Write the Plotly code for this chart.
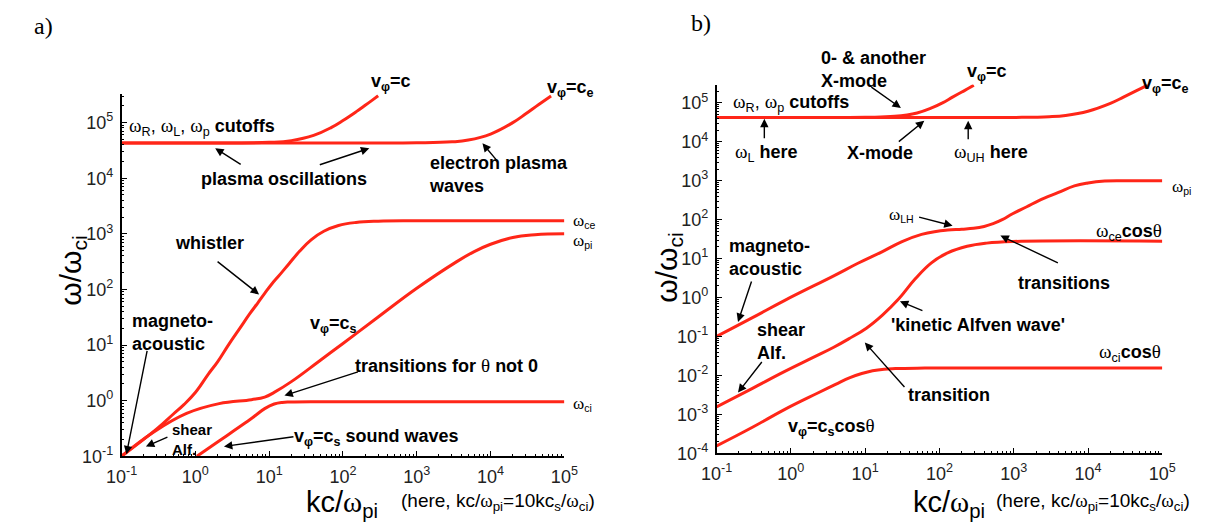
import plotly.graph_objects as go

W, H = 1220, 525
RED = "rgb(255,38,24)"
SANS = "Liberation Sans, Arial, sans-serif"
SERIF = "Liberation Serif, Times New Roman, serif"

# ---------------- panel a data (kc/omega_pi , omega/omega_ci) ----------------
a_epw_x = [0.1, 1, 10, 100, 1000, 3000, 5000, 10000, 20000, 30000, 45000, 66000]
a_epw_y = [43000, 43000, 43000, 43000, 43200, 45000, 48500, 62200, 99700, 143500, 210800, 300100]

a_light_x = [0.1, 1, 10, 20, 40, 70, 100, 150, 200, 250, 300]
a_light_y = [43000, 43000, 44100, 47400, 58700, 82100, 108900, 155800, 204500, 253700, 303100]

a_whistler_x = [0.1, 0.3, 0.5, 0.7, 1.0, 1.5, 2.0, 2.8, 4.0, 5.5, 7.0, 8.7, 11, 13, 18.6, 26, 37, 55, 87, 150, 300, 1000, 100000]
a_whistler_y = [0.1, 0.31, 0.57, 0.85, 1.4, 3.0, 5.0, 10, 20, 37, 57, 85, 128, 165, 290, 490, 780, 1110, 1410, 1600, 1690, 1720, 1720]

a_shear_x = [0.1, 0.27, 0.76, 2.1, 5.75, 8.7, 11.7, 20, 50, 100, 300, 1000, 3400, 6000, 10000, 20000, 40000, 100000]
a_shear_y = [0.1, 0.27, 0.59, 0.885, 1.04, 1.16, 1.41, 2.2, 5.4, 10.7, 32, 105, 310, 480, 650, 860, 960, 1000]

a_sound_x = [1.05, 2, 3.47, 6, 8.7, 11.7, 15, 19.5, 50, 100000]
a_sound_y = [0.1, 0.18, 0.3, 0.5, 0.72, 0.87, 0.93, 0.945, 0.955, 0.955]

# ---------------- panel b data ----------------
b_epw_x = [0.1, 1, 10, 100, 1000, 3000, 5000, 10000, 20000, 30000, 45000, 64000]
b_epw_y = [42000, 42000, 42000, 42000, 42200, 44000, 47500, 61000, 97000, 140000, 205000, 290000]

b_light_x = [0.1, 1, 10, 25, 50, 80, 110, 150, 200, 250, 290]
b_light_y = [42000, 42000, 42500, 45000, 55000, 75000, 100000, 140000, 190000, 240000, 285000]

b_ms_x = [0.1, 0.3, 0.83, 3.78, 8, 17.1, 31.4, 57.5, 90, 129, 200, 288, 400, 528, 700, 966, 1500, 2180, 4000, 6550, 10000, 16800, 30000, 100000]
b_ms_y = [0.1, 0.3, 0.85, 3.62, 7.6, 15.2, 27.5, 42, 50, 54, 57, 60, 67, 79, 100, 142, 215, 309, 502, 740, 880, 980, 1000, 1000]

b_kaw_x = [0.1, 0.3, 0.83, 2, 3.78, 6, 10.4, 17.1, 28.4, 47, 78, 129, 236, 432, 966, 100000]
b_kaw_y = [0.00155, 0.0046, 0.0127, 0.029, 0.053, 0.087, 0.164, 0.355, 0.93, 2.98, 7.8, 14, 20.7, 25, 27.5, 28]

b_sound_x = [0.1, 0.3, 0.83, 2.27, 4, 6.25, 9, 12.6, 18, 25.6, 50, 100, 100000]
b_sound_y = [0.000155, 0.00046, 0.00135, 0.0035, 0.0059, 0.0088, 0.0112, 0.0132, 0.0145, 0.0150, 0.0154, 0.0155, 0.0155]

# ---------------- tick labels ----------------
x_tickvals = [0.1, 1, 10, 100, 1000, 10000, 100000]
x_ticktext = ["10<sup>-1</sup>", "10<sup>0</sup>", "10<sup>1</sup>", "10<sup>2</sup>",
              "10<sup>3</sup>", "10<sup>4</sup>", "10<sup>5</sup>"]
a_y_tickvals = [0.1, 1, 10, 100, 1000, 10000, 100000]
a_y_ticktext = x_ticktext
b_y_tickvals = [1e-4, 1e-3, 1e-2, 0.1, 1, 10, 100, 1000, 10000, 100000]
b_y_ticktext = ["10<sup>-4</sup>", "10<sup>-3</sup>", "10<sup>-2</sup>", "10<sup>-1</sup>",
                "10<sup>0</sup>", "10<sup>1</sup>", "10<sup>2</sup>", "10<sup>3</sup>",
                "10<sup>4</sup>", "10<sup>5</sup>"]

fig = go.Figure()


def curve(x, y, xa, ya):
    fig.add_trace(go.Scatter(x=x, y=y, mode="lines", xaxis=xa, yaxis=ya,
                             line=dict(color=RED, width=3, shape="spline", smoothing=1.2),
                             showlegend=False, hoverinfo="skip"))


for xs, ys in [(a_epw_x, a_epw_y), (a_light_x, a_light_y), (a_whistler_x, a_whistler_y),
               (a_shear_x, a_shear_y), (a_sound_x, a_sound_y)]:
    curve(xs, ys, "x", "y")
for xs, ys in [(b_epw_x, b_epw_y), (b_light_x, b_light_y), (b_ms_x, b_ms_y),
               (b_kaw_x, b_kaw_y), (b_sound_x, b_sound_y)]:
    curve(xs, ys, "x2", "y2")


def minor_vals(e0, e1):
    return [k * 10.0 ** e for e in range(e0, e1) for k in range(2, 10)]


def axis_style(domain, rng, tv, tt, minv, anchor):
    return dict(domain=domain, type="log", range=rng, anchor=anchor,
                tickmode="array", tickvals=tv, ticktext=tt,
                ticks="inside", ticklen=6, tickwidth=1, tickcolor="black",
                ticklabelstandoff=3,
                minor=dict(tickmode="array", tickvals=minv, ticks="inside", ticklen=3,
                           tickwidth=1, tickcolor="black", showgrid=False),
                showline=True, linecolor="black", linewidth=1.5, showgrid=False,
                zeroline=False, tickfont=dict(family=SANS, size=18, color="#222"))


fig.update_layout(
    width=W, height=H, margin=dict(l=0, r=0, t=0, b=0),
    paper_bgcolor="white", plot_bgcolor="white", showlegend=False,
    xaxis=axis_style([100 / W, 554 / W], [-1, 5], x_tickvals, x_ticktext, minor_vals(-1, 5), "y"),
    yaxis=axis_style([1 - 457 / H, 1 - 88 / H], [-1, 5.508], a_y_tickvals, a_y_ticktext, minor_vals(-1, 6), "x"),
    xaxis2=axis_style([710 / W, 1167 / W], [-1, 5], x_tickvals, x_ticktext, minor_vals(-1, 5), "y2"),
    yaxis2=axis_style([1 - 454 / H, 1 - 78 / H], [-4, 5.471], b_y_tickvals, b_y_ticktext, minor_vals(-4, 6), "x2"),
)


def px(x):
    return x / W


def py(y):
    return 1 - y / H


def label(text, x, y, size=18, xanchor="center", align="center", angle=0, family=SANS):
    fig.add_annotation(text=text, x=px(x), y=py(y), xref="paper", yref="paper",
                       showarrow=False, xanchor=xanchor, yanchor="middle", align=align,
                       textangle=angle, font=dict(family=family, size=size, color="black"))


def arrow(x0, y0, x1, y1):
    fig.add_annotation(text="", x=px(x1), y=py(y1), xref="paper", yref="paper",
                       ax=x0 - x1, ay=y0 - y1, axref="pixel", ayref="pixel",
                       showarrow=True, arrowhead=2, arrowsize=1.2, arrowwidth=1.4,
                       arrowcolor="black")


def w(sub=None, size=19):
    s = ('<span style="font-family:Liberation Serif;font-weight:normal;font-size:%dpx">ω</span>' % size)
    if sub:
        s += "<sub>" + sub + "</sub>"
    return s


TH = '<span style="font-family:Liberation Serif;font-weight:normal;font-size:19px">θ</span>'
PHI = "<sub>φ</sub>"

# ---------------- panel a annotations ----------------
label("a)", 20, 18, size=24, family=SERIF)
label("<b>v" + PHI + "=c</b>", 376, 76)
label("<b>v" + PHI + "=c<sub>e</sub></b>", 560, 82)
label(w("R") + ", " + w("L") + ", " + w("p") + " <b>cutoffs</b>", 106, 121, xanchor="left")
label("<b>plasma oscillations</b>", 267, 174)
label("<b>electron plasma<br>waves</b>", 413, 170, xanchor="left", align="left")
label(w("ce", 17), 561, 217, size=15, xanchor="left")
label(w("pi", 17), 561, 238, size=15, xanchor="left")
label("<b>whistler</b>", 190, 240)
label("<b>magneto-<br>acoustic</b>", 109, 331, xanchor="left", align="left")
label("<b>shear<br>Alf.</b>", 150, 440, size=15, xanchor="left", align="left")
label("<b>v" + PHI + "=c<sub>s</sub></b>", 317, 323)
label("<b>transitions for " + TH + " not 0</b>", 433, 364)
label("<b>v" + PHI + "=c<sub>s</sub> sound waves</b>", 361, 438)
label(w("ci", 17), 561, 404, size=15, xanchor="left")
label("kc/" + w("pi", 29), 326, 506, size=29)
label("(here, kc/" + w("pi", 19) + "=10kc<sub>s</sub>/" + w("ci", 19) + ")", 384, 504, size=19, xanchor="left")
label("ω/ω<sub>ci</sub>", 50, 268, size=30, angle=-90)

arrow(223, 160, 196, 143)
arrow(303, 160, 354, 143)
arrow(486, 157, 470, 138)
arrow(198, 258, 241, 292)
arrow(126, 350, 105, 455)
arrow(148, 437, 125, 447)
arrow(342, 371, 267, 395)
arrow(276, 437, 205, 447)

# ---------------- panel b annotations ----------------
label("b)", 694, 15, size=24, family=SERIF)
label("<b>0- &amp; another<br>X-mode</b>", 815, 63, xanchor="left", align="left")
label("<b>v" + PHI + "=c</b>", 987, 66)
label("<b>v" + PHI + "=c<sub>e</sub></b>", 1170, 78)
label(w("R") + ", " + w("p") + " <b>cutoffs</b>", 725, 97, xanchor="left")
label(w("L") + " <b>here</b>", 761, 148)
label("<b>X-mode</b>", 878, 148)
label(w("UH") + " <b>here</b>", 991, 148)
label(w("pi", 17), 1175, 182, size=15, xanchor="left")
label(w("LH", 17), 900, 211, size=15)
label(w("ce") + "<b>cos</b>" + TH, 1133, 228)
label("<b>magneto-<br>acoustic</b>", 721, 254, xanchor="left", align="left")
label("<b>transitions</b>", 1066, 280)
label("<b>'kinetic Alfven wave'</b>", 978, 323)
label("<b>shear<br>Alf.</b>", 749, 340, xanchor="left", align="left")
label("<b>transition</b>", 948, 395)
label(w("ci") + "<b>cos</b>" + TH, 1134, 352)
label("<b>v" + PHI + "=c<sub>s</sub>cos</b>" + TH, 828, 427)
label("kc/" + w("pi", 29), 948, 506, size=29)
label("(here, kc/" + w("pi", 19) + "=10kc<sub>s</sub>/" + w("ci", 19) + ")", 994, 504, size=19, xanchor="left")
label("ω/ω<sub>ci</sub>", 661, 265, size=30, angle=-90)

arrow(868, 80, 899, 102)
arrow(759, 134, 759, 113)
arrow(896, 137, 923, 115)
arrow(968, 135, 968, 115)
arrow(917, 213, 952, 222)
arrow(746, 278, 732, 320)
arrow(1060, 260, 1001, 232)
arrow(922, 309, 898, 299)
arrow(757, 360, 732, 392)
arrow(903, 387, 862, 341)

fig.write_html("out.html")
